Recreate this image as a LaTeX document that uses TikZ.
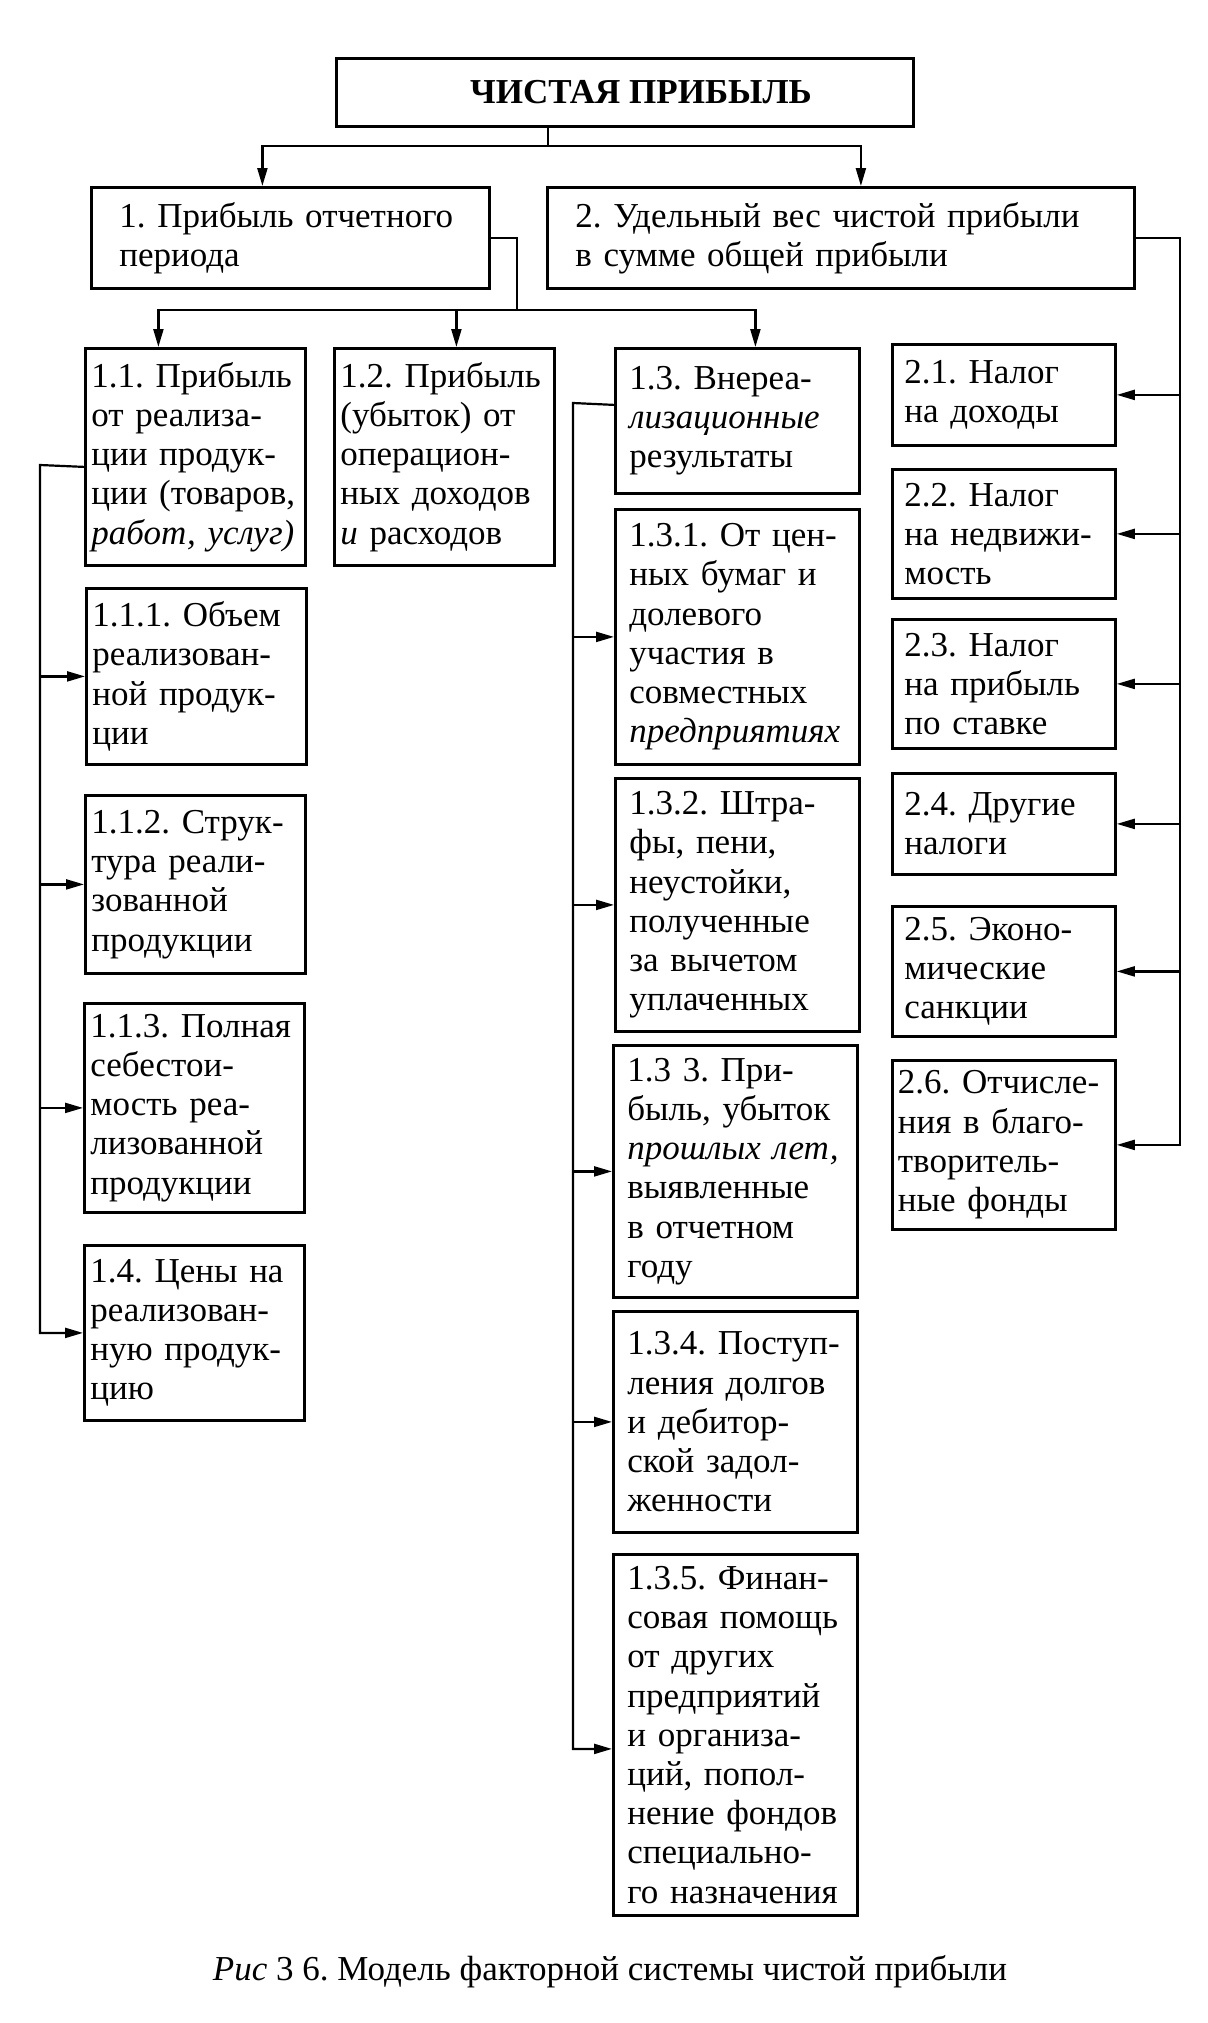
\documentclass[tikz,border=0pt]{standalone}
\usepackage{fontspec}
\setmainfont{Liberation Serif}
\frenchspacing
\usetikzlibrary{arrows.meta}
\tikzset{every node/.style={font=\fontsize{17.5}{19.6}\selectfont}}
\tikzset{
  box/.style={draw, line width=1.4pt, anchor=north west, align=left, inner ysep=0pt},
  boxa/.style={box, text width=104pt, inner xsep=3pt},
  boxc/.style={box, text width=108pt, inner xsep=7pt},
  boxd/.style={box, text width=99.5pt, inner xsep=6pt},
  link/.style={line width=1.1pt},
  arr/.style={link, -{Triangle[length=9pt, width=5pt]}}
}

\begin{document}
\begin{tikzpicture}[x=0.5pt, y=-0.5pt]
    \useasboundingbox (0,0) rectangle (1207,2023);
    \node[box, align=center, minimum width=288.5pt, minimum height=34pt, font=\fontsize{17.5}{19.6}\selectfont\bfseries] (top) at (335,57) {\hspace{16pt}ЧИСТАЯ ПРИБЫЛЬ};
    \node[box, text width=171pt, inner xsep=14pt, minimum height=50.5pt] (b1) at (90,186) {1. Прибыль отчетного\\ периода};
    \node[box, text width=265.5pt, inner xsep=14pt, minimum height=50.5pt] (b2) at (546,186) {2. Удельный вес чистой прибыли\\ в сумме общей прибыли};
    \node[boxa, minimum height=108.5pt] (b11) at (84,347) {1.1. Прибыль\\ от реализа-\\ ции продук-\\ ции (товаров,\\ \textit{работ, услуг)}};
    \node[boxa, minimum height=108.5pt] (b12) at (333,347) {1.2. Прибыль\\ (убыток) от\\ операцион-\\ ных доходов\\ \textit{и} расходов};
    \node[boxa, minimum height=88pt] (b111) at (85,587) {1.1.1. Объем\\ реализован-\\ ной продук-\\ ции};
    \node[boxa, minimum height=89pt] (b112) at (84,794) {1.1.2. Струк-\\ тура реали-\\ зованной\\ продукции};
    \node[boxa, minimum height=104.5pt] (b113) at (83,1002) {1.1.3. Полная\\ себестои-\\ мость реа-\\ лизованной\\ продукции};
    \node[boxa, minimum height=87.5pt] (b14) at (83,1244) {1.4. Цены на\\ реализован-\\ ную продук-\\ цию};
    \node[boxc, minimum height=72.5pt] (b13) at (614,347) {1.3. Внереа-\\ \textit{лизационные}\\ результаты};
    \node[boxc, minimum height=127.5pt] (b131) at (614,508) {1.3.1. От цен-\\ ных бумаг и\\ долевого\\ участия в\\ совместных\\ \textit{предприятиях}};
    \node[boxc, minimum height=126.5pt] (b132) at (614,777) {1.3.2. Штра-\\ фы, пени,\\ неустойки,\\ полученные\\ за вычетом\\ уплаченных};
    \node[boxc, minimum height=126pt] (b133) at (612,1044) {1.3 3. При-\\ быль, убыток\\ \textit{прошлых лет,}\\ выявленные\\ в отчетном\\ году};
    \node[boxc, minimum height=110.5pt] (b134) at (612,1310) {1.3.4. Поступ-\\ ления долгов\\ и дебитор-\\ ской задол-\\ женности};
    \node[boxc, minimum height=180.5pt] (b135) at (612,1553) {1.3.5. Финан-\\ совая помощь\\ от других\\ предприятий\\ и организа-\\ ций, попол-\\ нение фондов\\ специально-\\ го назначения};
    \node[boxd, minimum height=50.5pt] (b21) at (891,343) {2.1. Налог\\ на доходы};
    \node[boxd, minimum height=64.5pt] (b22) at (891,468) {2.2. Налог\\ на недвижи-\\ мость};
    \node[boxd, minimum height=64.5pt] (b23) at (891,618) {2.3. Налог\\ на прибыль\\ по ставке};
    \node[boxd, minimum height=50.5pt] (b24) at (891,772) {2.4. Другие\\ налоги};
    \node[boxd, minimum height=65pt] (b25) at (891,905) {2.5. Эконо-\\ мические\\ санкции};
    \node[boxd, text width=106pt, inner xsep=2.75pt, minimum height=84.5pt] (b26) at (891,1059) {2.6. Отчисле-\\ ния в благо-\\ творитель-\\ ные фонды};
    \node[font=\fontsize{17.5}{19.6}\selectfont, anchor=base] (cap) at (610,1980) {\textit{Рис} 3 6. Модель факторной системы чистой прибыли};
    \coordinate (bus0) at (548,146);
    \coordinate (bus1) at (517,310);
    \coordinate (lbus) at (40,465);
    \coordinate (cbus) at (573,403);
    \coordinate (rbus) at (1180,0);
    \draw[link] (top.south -| bus0) -- (bus0);
    \draw[arr] (bus0) -| ([xshift=-14pt]b1.north);
    \draw[arr] (bus0) -| ([xshift=10pt]b2.north);
    \draw[link] (b1.east) -| (bus1);
    \draw[arr] (bus1) -| ([xshift=-18.5pt]b11.north);
    \draw[arr] (bus1) -| ([xshift=6pt]b12.north);
    \draw[arr] (bus1) -| ([xshift=9pt]b13.north);
    \draw[arr] ([yshift=-5pt]b11.west) -- (lbus) |- (b14.west);
    \draw[arr] (lbus |- b111.west) -- (b111.west);
    \draw[arr] (lbus |- b112.west) -- (b112.west);
    \draw[arr] (lbus |- b113.west) -- (b113.west);
    \draw[arr] ([yshift=8pt]b13.west) -- (cbus) |- ([yshift=-7pt]b135.west);
    \draw[arr] (cbus |- b131.west) -- (b131.west);
    \draw[arr] (cbus |- b132.west) -- (b132.west);
    \draw[arr] (cbus |- b133.west) -- (b133.west);
    \draw[arr] (cbus |- b134.west) -- (b134.west);
    \draw[arr] (b2.east) -| (rbus |- b26.east) -- (b26.east);
    \draw[arr] (rbus |- b21.east) -- (b21.east);
    \draw[arr] (rbus |- b22.east) -- (b22.east);
    \draw[arr] (rbus |- b23.east) -- (b23.east);
    \draw[arr] (rbus |- b24.east) -- (b24.east);
    \draw[arr] (rbus |- b25.east) -- (b25.east);
  \end{tikzpicture}
\end{document}
